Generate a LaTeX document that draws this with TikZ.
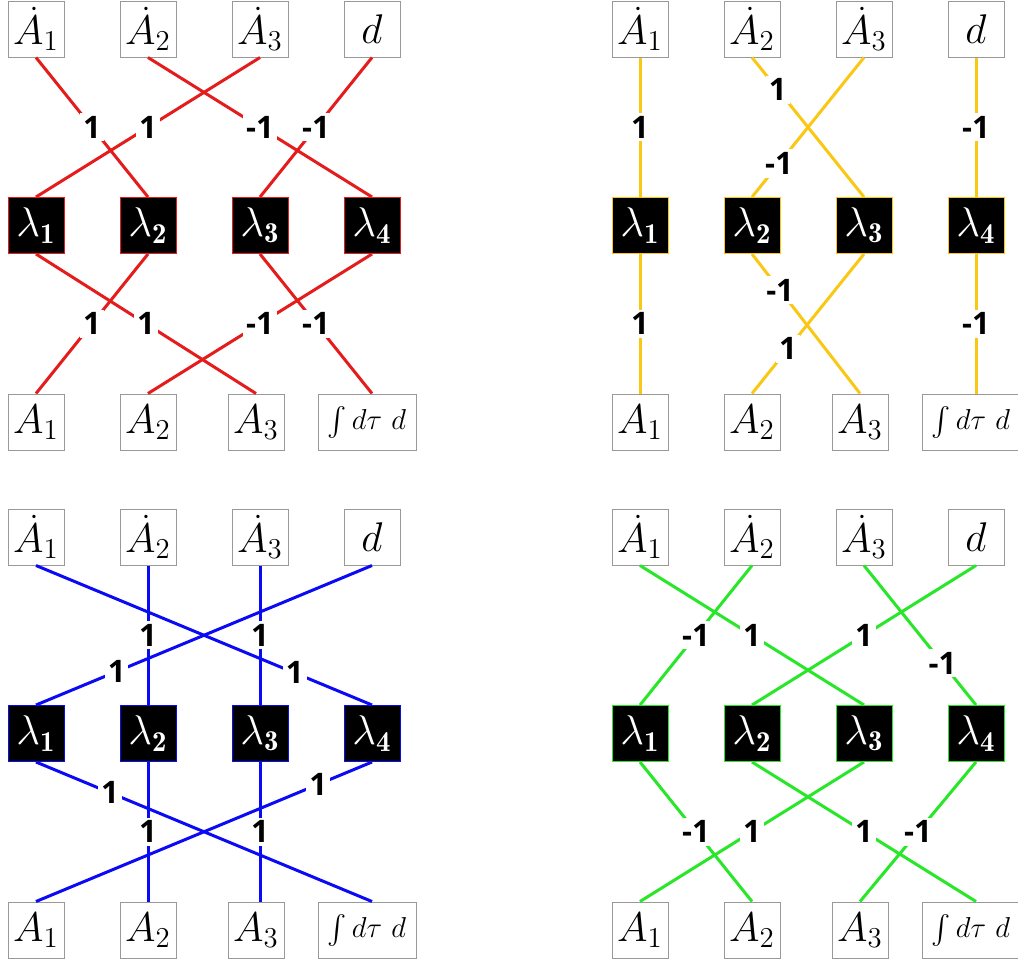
\documentclass[tikz,border=0pt]{standalone}
\usepackage{amsmath,amssymb}
\usepackage{fontspec}
\newfontfamily\lblfont{Open Sans}
\usepackage{xcolor}
\usepackage{tikz}

\definecolor{cred}{RGB}{228,28,28}
\definecolor{cyel}{RGB}{250,200,20}
\definecolor{cblue}{RGB}{10,10,245}
\definecolor{cgreen}{RGB}{40,230,40}

\begin{document}
\begin{tikzpicture}[x=0.5pt, y=-0.5pt,
    var/.style={draw=gray!80, line width=0.5pt, fill=white, minimum width=28pt, minimum height=28pt,
                inner sep=0pt, font=\fontsize{20.74}{20.74}\selectfont},
    lam/.style={draw=#1, line width=0.5pt, fill=black, text=white, minimum width=28pt, minimum height=28pt,
                inner sep=0pt, font=\fontsize{20.74}{20.74}\selectfont},
    wide/.style={var, minimum width=49pt, font=\fontsize{14.4}{14.4}\selectfont},
    edge/.style={line width=1.5pt, draw=#1},
    w/.style={fill=white, inner sep=1.5pt, font=\lblfont\bfseries\fontsize{15.5}{15.5}\selectfont},
]
\useasboundingbox (0,0) rectangle (1018,959);

% --- Nodes of the four panels ---
\foreach \p/\dx/\dy/\col in {r/0/0/cred, y/604/0/cyel, b/0/508/cblue, g/604/508/cgreen} {
  \begin{scope}[shift={(\dx,\dy)}]
    \node[var] (\p-t1) at (36,29) {$\dot{A}_1$};
    \node[var] (\p-t2) at (148,29) {$\dot{A}_2$};
    \node[var] (\p-t3) at (260,29) {$\dot{A}_3$};
    \node[var] (\p-t4) at (372,29) {$d$};
    \node[lam=\col] (\p-l1) at (36,225.5) {$\lambda_{\mathbf{1}}$};
    \node[lam=\col] (\p-l2) at (148,225.5) {$\lambda_{\mathbf{2}}$};
    \node[lam=\col] (\p-l3) at (260,225.5) {$\lambda_{\mathbf{3}}$};
    \node[lam=\col] (\p-l4) at (372,225.5) {$\lambda_{\mathbf{4}}$};
    \node[var] (\p-b1) at (36,422) {$A_1$};
    \node[var] (\p-b2) at (148,422) {$A_2$};
    \node[var] (\p-b3) at (256,422) {$A_3$};
    \node[wide] (\p-b4) at (367,422) {$\int d\tau\ d$};
  \end{scope}
}

% --- Red panel ---
\draw[edge=cred] (r-t1.south) -- node[w] {1} (r-l2.north);
\draw[edge=cred] (r-t2.south) -- node[w] {-1} (r-l4.north);
\draw[edge=cred] (r-t3.south) -- node[w] {1} (r-l1.north);
\draw[edge=cred] (r-t4.south) -- node[w] {-1} (r-l3.north);
\draw[edge=cred] (r-l1.south) -- node[w] {1} (r-b3.north);
\draw[edge=cred] (r-l2.south) -- node[w] {1} (r-b1.north);
\draw[edge=cred] (r-l3.south) -- node[w] {-1} (r-l4.south |- r-b4.north);
\draw[edge=cred] (r-l4.south) -- node[w] {-1} (r-b2.north);

% --- Yellow panel ---
\draw[edge=cyel] (y-t1.south) -- node[w] {1} (y-l1.north);
\draw[edge=cyel] (y-t2.south) -- node[w, pos=0.23] {1} (y-l3.north);
\draw[edge=cyel] (y-t3.south) -- node[w, pos=0.76] {-1} (y-l2.north);
\draw[edge=cyel] (y-t4.south) -- node[w] {-1} (y-l4.north);
\draw[edge=cyel] (y-l1.south) -- node[w] {1} (y-b1.north);
\draw[edge=cyel] (y-l2.south) -- node[w, pos=0.26] {-1} (y-b3.north);
\draw[edge=cyel] (y-l3.south) -- node[w, pos=0.68] {1} (y-b2.north);
\draw[edge=cyel] (y-l4.south) -- node[w] {-1} (y-l4.south |- y-b4.north);

% --- Blue panel ---
\draw[edge=cblue] (b-t1.south) -- node[w, pos=0.77] {1} (b-l4.north);
\draw[edge=cblue] (b-t2.south) -- node[w] {1} (b-l2.north);
\draw[edge=cblue] (b-t3.south) -- node[w] {1} (b-l3.north);
\draw[edge=cblue] (b-t4.south) -- node[w, pos=0.76] {1} (b-l1.north);
\draw[edge=cblue] (b-l1.south) -- node[w, pos=0.22] {1} (b-l4.south |- b-b4.north);
\draw[edge=cblue] (b-l2.south) -- node[w] {1} (b-b2.north);
\draw[edge=cblue] (b-l3.south) -- node[w] {1} (b-l3.south |- b-b3.north);
\draw[edge=cblue] (b-l4.south) -- node[w, pos=0.16] {1} (b-b1.north);

% --- Green panel ---
\draw[edge=cgreen] (g-t1.south) -- node[w] {1} (g-l3.north);
\draw[edge=cgreen] (g-t2.south) -- node[w] {-1} (g-l1.north);
\draw[edge=cgreen] (g-t3.south) -- node[w, pos=0.7] {-1} (g-l4.north);
\draw[edge=cgreen] (g-t4.south) -- node[w] {1} (g-l2.north);
\draw[edge=cgreen] (g-l1.south) -- node[w] {-1} (g-b2.north);
\draw[edge=cgreen] (g-l2.south) -- node[w] {1} (g-l4.south |- g-b4.north);
\draw[edge=cgreen] (g-l3.south) -- node[w] {1} (g-b1.north);
\draw[edge=cgreen] (g-l4.south) -- node[w] {-1} (g-b3.north);

\end{tikzpicture}
\end{document}
